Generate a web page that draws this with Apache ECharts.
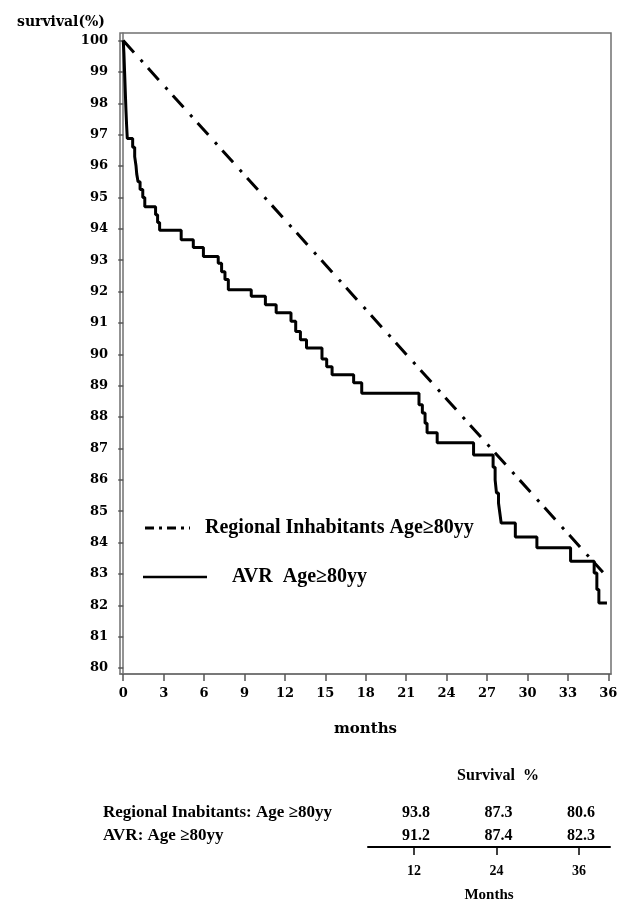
<!DOCTYPE html>
<html>
<head>
<meta charset="utf-8">
<script src="https://cdn.jsdelivr.net/npm/echarts@6/dist/echarts.min.js"></script>
<style>
html,body{margin:0;padding:0;background:#fff;}
#chart{width:638px;height:901px;}
</style>
</head>
<body>
<div id="chart"></div>
<script>
// ---- data ----
const xTicks = [0, 3, 6, 9, 12, 15, 18, 21, 24, 27, 30, 33, 36];
const yTicks = [80, 81, 82, 83, 84, 85, 86, 87, 88, 89, 90, 91, 92, 93, 94, 95, 96, 97, 98, 99, 100];

const regionalMonths = [0, 35.6];
const regionalSurvival = [100, 83.05];

const avrMonths = [0, 0.05, 0.1, 0.15, 0.2, 0.25, 0.3, 0.7, 0.85, 0.95, 1.0, 1.1, 1.25, 1.45, 1.6, 2.4, 2.55, 2.7,
  4.3, 5.2, 5.95, 7.05, 7.3, 7.55, 7.8, 9.5, 10.55, 11.35, 12.45, 12.8, 13.15, 13.6, 14.75, 15.1, 15.5, 17.1, 17.7,
  21.95, 22.2, 22.4, 22.55, 23.3, 26.0, 27.45, 27.6, 27.7, 27.85, 27.95, 28.05, 29.1, 30.7, 33.2, 34.95, 35.15, 35.3, 35.9];
const avrSurvival = [100, 99.6, 99.0, 98.4, 97.8, 97.3, 96.88, 96.6, 96.3, 96.0, 95.75, 95.5, 95.25, 95.0, 94.7, 94.45, 94.2, 93.95,
  93.65, 93.4, 93.12, 92.9, 92.63, 92.38, 92.06, 91.85, 91.58, 91.32, 91.05, 90.73, 90.46, 90.2, 89.85, 89.6, 89.35, 89.09, 88.76,
  88.39, 88.13, 87.8, 87.5, 87.18, 86.79, 86.4, 86.0, 85.58, 85.26, 84.94, 84.62, 84.18, 83.83, 83.4, 83.03, 82.5, 82.07, 82.07];

const legendNames = ['Regional Inhabitants Age\u226580yy', 'AVR  Age\u226580yy'];

const tableMonths = [12, 24, 36];
const tableRows = ['AVR: Age \u226580yy', 'Regional Inabitants: Age \u226580yy'];
const tableRegional = [93.8, 87.3, 80.6];
const tableAVR = [91.2, 87.4, 82.3];

// ---- chart ----
const chart = echarts.init(document.getElementById('chart'), null, {renderer: 'canvas'});
const serif = 'DejaVu Serif';
const times = 'Liberation Serif';

const tableData = [];
tableMonths.forEach((m, i) => {
  tableData.push([m, tableRows[1], tableRegional[i]]);
  tableData.push([m, tableRows[0], tableAVR[i]]);
});

const option = {
  animation: false,
  backgroundColor: '#fff',
  title: [
    {text: 'survival(%)', left: 12, top: 10,
     textStyle: {fontFamily: serif, fontWeight: 'bold', fontSize: 14, color: '#000'}},
    {text: 'Survival  %', left: 493, top: 763, textAlign: 'center',
     textStyle: {fontFamily: times, fontWeight: 'bold', fontSize: 16, color: '#000'}}
  ],
  grid: [
    {left: 120, top: 33, width: 491, height: 641, show: true, borderColor: '#707070', borderWidth: 1.5,
     containLabel: false, outerBoundsMode: 'none'},
    {left: 368, top: 801, width: 242, height: 46, containLabel: false, outerBoundsMode: 'none'}
  ],
  xAxis: [
    {gridIndex: 0, type: 'value', min: -0.24, max: 36.2,
     name: 'months', nameLocation: 'middle', nameGap: 48,
     nameTextStyle: {fontFamily: serif, fontWeight: 'bold', fontSize: 15, color: '#000'},
     axisLine: {show: true, lineStyle: {color: '#707070', width: 1.5}},
     axisTick: {show: true, length: 7, customValues: xTicks, lineStyle: {color: '#555', width: 1.5}},
     axisLabel: {customValues: xTicks, margin: 13, fontFamily: serif, fontWeight: 'bold', fontSize: 13, color: '#000'},
     splitLine: {show: false}},
    {gridIndex: 1, type: 'value', min: 5.31, max: 40.5,
     name: 'Months', nameLocation: 'middle', nameGap: 41,
     nameTextStyle: {fontFamily: times, fontWeight: 'bold', fontSize: 15, color: '#000'},
     axisLine: {show: true, lineStyle: {color: '#000', width: 2}},
     axisTick: {show: true, length: 8, customValues: tableMonths, lineStyle: {color: '#000', width: 1.5}},
     axisLabel: {customValues: tableMonths, margin: 17, fontFamily: times, fontWeight: 'bold', fontSize: 14, color: '#000'},
     splitLine: {show: false}}
  ],
  yAxis: [
    {gridIndex: 0, type: 'value', min: 79.81, max: 100.24,
     axisLine: {show: true, lineStyle: {color: '#707070', width: 1.5}},
     axisTick: {show: true, length: 5, customValues: yTicks, lineStyle: {color: '#555', width: 1.5}},
     axisLabel: {customValues: yTicks, margin: 12, fontFamily: serif, fontWeight: 'bold', fontSize: 13, color: '#000'},
     splitLine: {show: false}},
    {gridIndex: 1, type: 'category', data: tableRows,
     axisLine: {show: false}, axisTick: {show: false},
     axisLabel: {interval: 0, margin: 265, align: 'left', fontFamily: times, fontWeight: 'bold', fontSize: 17, color: '#000'},
     splitLine: {show: false}}
  ],
  series: [
    {type: 'line', xAxisIndex: 0, yAxisIndex: 0, name: legendNames[0],
     data: regionalMonths.map((m, i) => [m, regionalSurvival[i]]),
     symbol: 'none', lineStyle: {color: '#000', width: 3, type: [16, 10, 3, 8]}, z: 3},
    {type: 'line', xAxisIndex: 0, yAxisIndex: 0, name: legendNames[1], step: 'end',
     data: avrMonths.map((m, i) => [m, avrSurvival[i]]),
     symbol: 'none', lineStyle: {color: '#000', width: 3}, z: 4},
    {type: 'scatter', xAxisIndex: 1, yAxisIndex: 1, data: tableData,
     symbolSize: 1, itemStyle: {color: '#fff', opacity: 1},
     label: {show: true, position: 'inside', offset: [2, 0], textBorderWidth: 0, opacity: 1,
             formatter: p => p.value[2].toFixed(1),
             fontFamily: times, fontWeight: 'bold', fontSize: 16, color: '#000'}}
  ],
  graphic: [
    {type: 'line', shape: {x1: 145, y1: 528, x2: 190, y2: 528},
     style: {stroke: '#000', lineWidth: 3, lineDash: [9, 5, 3, 5]}},
    {type: 'text', x: 205, y: 528,
     style: {text: legendNames[0], fill: '#000', font: 'bold 20px "Liberation Serif"', verticalAlign: 'middle'}},
    {type: 'line', shape: {x1: 143, y1: 577, x2: 207, y2: 577},
     style: {stroke: '#000', lineWidth: 2.5}},
    {type: 'text', x: 232, y: 577,
     style: {text: legendNames[1], fill: '#000', font: 'bold 20px "Liberation Serif"', verticalAlign: 'middle'}}
  ]
};
chart.setOption(option);
</script>
</body>
</html>
